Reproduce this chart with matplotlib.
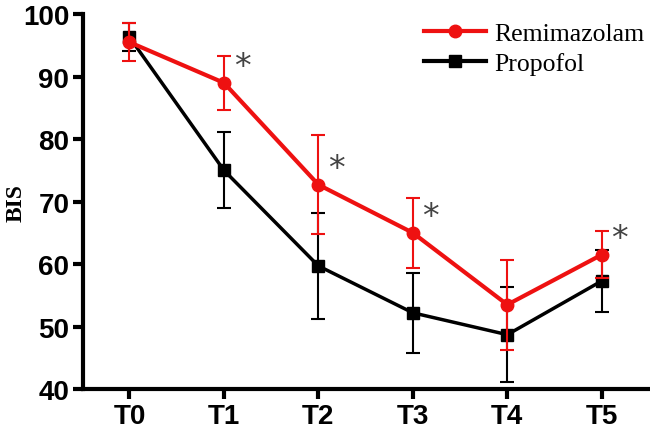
import numpy as np
import matplotlib
matplotlib.use("Agg")
from matplotlib import pyplot as plt
from matplotlib.lines import Line2D

# data
times = ["T0", "T1", "T2", "T3", "T4", "T5"]
remi_mean = [95.5, 89.0, 72.7, 65.0, 53.5, 61.5]
remi_sd = [3.0, 4.3, 7.9, 5.6, 7.2, 3.8]
prop_mean = [96.3, 75.0, 59.7, 52.2, 48.7, 57.3]
prop_sd = [2.2, 6.1, 8.5, 6.4, 7.6, 5.0]
star_at = [1, 2, 3, 5]  # significant time points

red = "#ee1111"
x = np.arange(len(times))

fig = plt.figure(figsize=(6.5, 4.31), dpi=100)
ax = fig.add_axes([0.128, 0.095, 0.869, 0.870])

ax.errorbar(x, prop_mean, yerr=prop_sd, color="black", lw=2.5,
            marker="s", ms=9, capsize=5, elinewidth=1.5, capthick=1.5,
            zorder=2)
ax.errorbar(x, remi_mean, yerr=remi_sd, color=red, lw=3,
            marker="o", ms=9, capsize=5, elinewidth=1.5, capthick=1.5,
            zorder=3)

for i in star_at:
    ax.text(x[i] + 0.19, remi_mean[i] + 2.6, "*", color="#444444",
            fontsize=24, ha="center", va="center", family="DejaVu Sans")

ax.set_xlim(-0.49, 5.49)
ax.set_ylim(40, 100)
ax.set_xticks(x)
ax.set_xticklabels(times)
ax.set_yticks(np.arange(40, 101, 10))

for s in ["top", "right"]:
    ax.spines[s].set_visible(False)
for s in ["left", "bottom"]:
    ax.spines[s].set_linewidth(3)

ax.tick_params(width=3, length=7, labelsize=20, pad=3)
for lab in ax.get_xticklabels() + ax.get_yticklabels():
    lab.set_fontweight("bold")
    lab.set_family("Liberation Sans")

ax.set_ylabel("BIS", family="Liberation Serif", fontweight="bold",
              fontsize=17)
ax.yaxis.set_label_coords(-0.1, 0.5)

handles = [Line2D([], [], color=red, lw=3, marker="o", ms=9),
           Line2D([], [], color="black", lw=3, marker="s", ms=9)]
ax.legend(handles, ["Remimazolam", "Propofol"], loc="upper right",
          frameon=False, bbox_to_anchor=(1.035, 1.04),
          prop={"family": "Liberation Serif", "size": 18.5},
          handlelength=2.4, handletextpad=0.35, labelspacing=0.25)

fig.savefig("out.png", dpi=100)
